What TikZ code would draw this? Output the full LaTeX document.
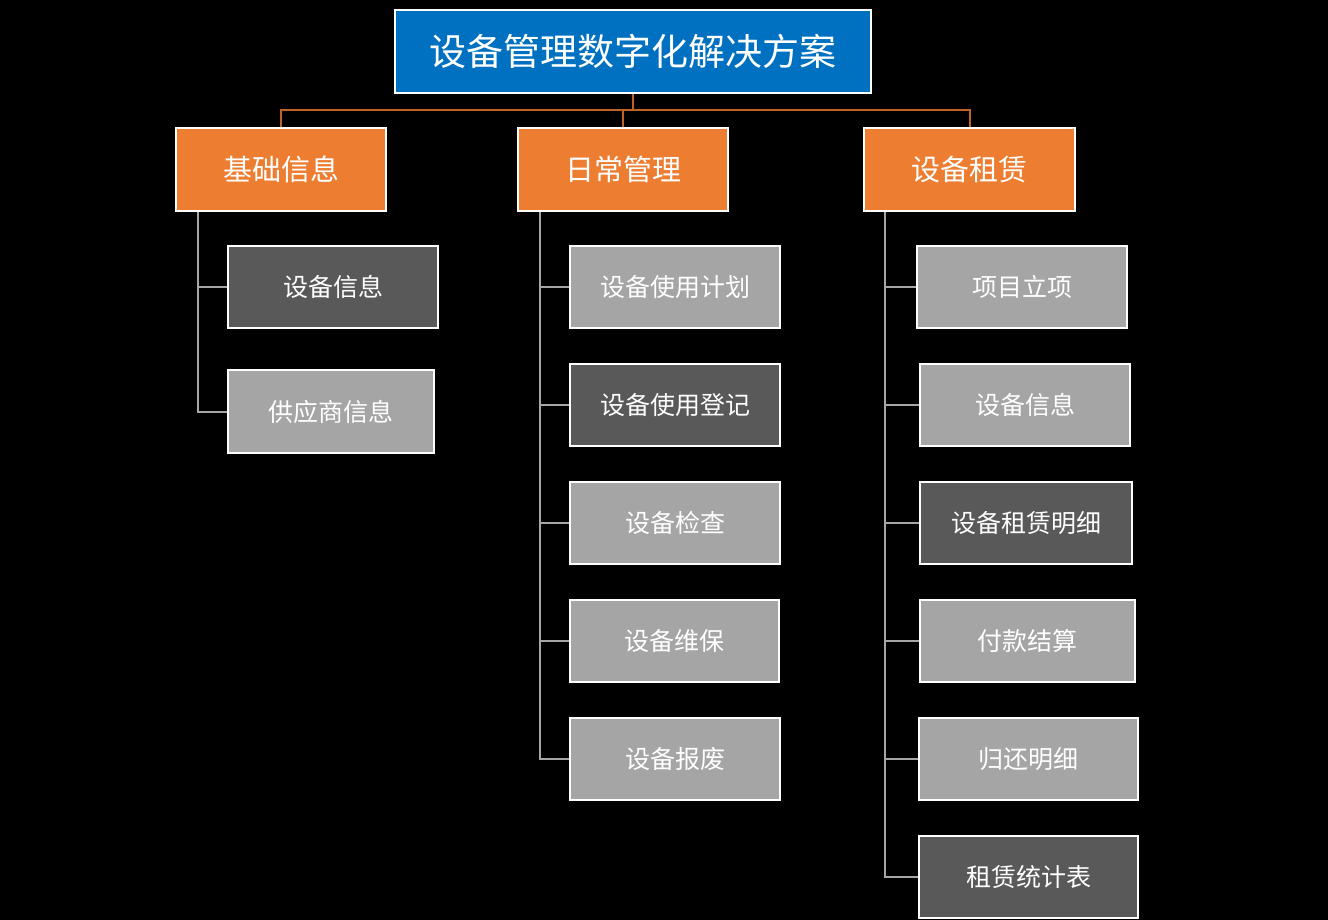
\documentclass[tikz,border=0pt]{standalone}
\usepackage{fontspec}
\newfontfamily\cjk{Noto Sans CJK SC}
\definecolor{tblue}{HTML}{0070C0}
\definecolor{torange}{HTML}{ED7D31}
\definecolor{tdark}{HTML}{595959}
\definecolor{tlight}{HTML}{A5A5A5}
\definecolor{oline}{HTML}{C0622A}
\definecolor{gline}{HTML}{A6A6A6}
\begin{document}
\begin{tikzpicture}[x=1pt,y=-1pt,
  base/.style={draw=white, line width=2pt, inner sep=0pt, text=white, font=\cjk\fontsize{25}{30}\selectfont},
  titlebox/.style={base, fill=tblue, minimum width=476pt, minimum height=83pt, font=\cjk\fontsize{37}{44}\selectfont},
  catbox/.style={base, fill=torange, minimum height=83pt, font=\cjk\fontsize{29}{35}\selectfont},
  darkbox/.style={base, fill=tdark, minimum height=82pt},
  lightbox/.style={base, fill=tlight, minimum height=82pt},
  oconn/.style={draw=oline, line width=2pt},
  gconn/.style={draw=gline, line width=2pt}]
\fill[black] (0,0) rectangle (1328,920);
\useasboundingbox (0,0) rectangle (1328,920);

\node[titlebox] (title) at (633,51.5) {设备管理数字化解决方案};

\node[catbox, minimum width=210pt] (ca) at (281,169.5) {基础信息};
\node[catbox, minimum width=210pt] (cb) at (623,169.5) {日常管理};
\node[catbox, minimum width=211pt] (cc) at (969.5,169.5) {设备租赁};

\coordinate (bus) at (633,110);
\draw[oconn] (title.south) -- (title.south |- bus);
\draw[oconn] (ca.north) -- (ca.north |- bus) -| (cc.north);
\draw[oconn] (cb.north) -- (cb.north |- bus);

% column 1
\node[darkbox, minimum width=210pt] (a1) at (333,287) {设备信息};
\node[lightbox, minimum width=206pt, minimum height=83pt] (a2) at (331,411.5) {供应商信息};

% column 2
\node[lightbox, minimum width=210pt] (b1) at (675,287) {设备使用计划};
\node[darkbox, minimum width=210pt] (b2) at (675,405) {设备使用登记};
\node[lightbox, minimum width=210pt] (b3) at (675,523) {设备检查};
\node[lightbox, minimum width=209pt] (b4) at (674.5,641) {设备维保};
\node[lightbox, minimum width=210pt] (b5) at (675,759) {设备报废};

% column 3
\node[lightbox, minimum width=210pt] (c1) at (1022,287) {项目立项};
\node[lightbox, minimum width=210pt] (c2) at (1025,405) {设备信息};
\node[darkbox, minimum width=212pt] (c3) at (1026,523) {设备租赁明细};
\node[lightbox, minimum width=215pt] (c4) at (1027.5,641) {付款结算};
\node[lightbox, minimum width=219pt] (c5) at (1028.5,759) {归还明细};
\node[darkbox, minimum width=219pt] (c6) at (1028.5,877) {租赁统计表};

% gray connectors
\coordinate (va) at (198,211);
\coordinate (vb) at (540,211);
\coordinate (vc) at (885,211);
\draw[gconn] (ca.south -| va) |- (a2.west);
\draw[gconn] (va |- a1.west) -- (a1.west);

\draw[gconn] (cb.south -| vb) |- (b5.west);
\foreach \n in {b1,b2,b3,b4} \draw[gconn] (vb |- \n.west) -- (\n.west);

\draw[gconn] (cc.south -| vc) |- (c6.west);
\foreach \n in {c1,c2,c3,c4,c5} \draw[gconn] (vc |- \n.west) -- (\n.west);
\end{tikzpicture}
\end{document}
